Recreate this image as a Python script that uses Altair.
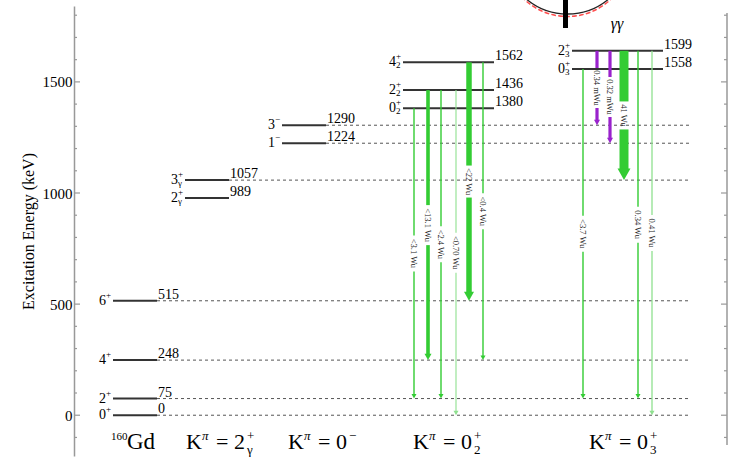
import altair as alt
import pandas as pd

# ---------------- data ----------------
level_band = ["gs", "gs", "gs", "gs", "gam", "gam", "neg", "neg", "b02", "b02", "b02", "b03", "b03"]
level_energy = [0, 75, 248, 515, 989, 1057, 1224, 1290, 1380, 1436, 1562, 1558, 1599]
# vertical position at which each level is drawn (keV on the axis)
level_drawn = [0, 75, 248, 515, 978, 1058, 1224, 1305, 1381, 1463, 1588, 1558, 1640]
level_spin = ["0", "2", "4", "6", "2", "3", "1", "3", "0", "2", "4", "0", "2"]
level_parity = ["+", "+", "+", "+", "+", "+", "\u2212", "\u2212", "+", "+", "+", "+", "+"]
level_sub = ["", "", "", "", "\u03b3", "\u03b3", "", "", "2", "2", "2", "3", "3"]
dashed_levels = [0, 75, 248, 515, 1057, 1224, 1290]

tr_band = ["b02"] * 6 + ["b03"] * 6
tr_from = [1380, 1436, 1436, 1436, 1562, 1562, 1558, 1599, 1599, 1599, 1599, 1599]
tr_to = [75, 248, 75, 0, 515, 248, 75, 1290, 1224, 1057, 75, 0]
tr_label = ["<3.1 Wu", "<13.1 Wu", "<2.4 Wu", "<0.70 Wu", "<22 Wu", "<0.4 Wu",
            "<3.7 Wu", "0.34 mWu", "0.32 mWu", "41 Wu", "0.34 Wu", "0.41 Wu"]

band_K_spin = {"gam": "2", "neg": "0", "b02": "0", "b03": "0"}
band_K_par = {"gam": "+", "neg": "\u2212", "b02": "+", "b03": "+"}
band_K_sub = {"gam": "\u03b3", "neg": "", "b02": "2", "b03": "3"}

major_ticks = [0, 500, 1000, 1500]
minor_ticks = [-100, 100, 200, 300, 400, 600, 700, 800, 900, 1100, 1200, 1300, 1400,
               1600, 1700, 1800]

# ---------------- layout / style ----------------
W, H = 653, 450
YDOM = [-183.5, 1841.5]
PPK = H / (YDOM[1] - YDOM[0])
BAND_X = {"gs": (39, 83), "gam": (111, 155), "neg": (208, 252), "b02": (329, 420), "b03": (498, 589)}
DASH_END = 616
ARROW_X = [340, 354, 367, 382, 395, 409, 509, 523, 536, 550, 564, 578]
GREEN, LGREEN, PURPLE = "#33cc33", "#8fe08f", "#9922cc"
ARROW_COLOR = [GREEN, GREEN, GREEN, LGREEN, GREEN, GREEN, GREEN, PURPLE, PURPLE, GREEN, GREEN, LGREEN]
ARROW_W = [1.4, 3.6, 1.4, 1.1, 5.5, 1.4, 1.4, 3.2, 3.2, 9, 1.4, 1.3]
HEAD_W = [5, 7, 5, 5, 10, 5, 5, 6, 6, 13, 5, 5]
K_X = {"gam": 112, "neg": 214, "b02": 339, "b03": 515}
SERIF = "Liberation Serif"

xs = alt.Scale(domain=[0, W], nice=False, zero=False)
ys = alt.Scale(domain=YDOM, nice=False, zero=False)
y_axis = alt.Axis(
    values=major_ticks, format="d", ticks=False, grid=False, domainColor="#999999", domainWidth=1.5,
    labelFont=SERIF, labelFontSize=15, labelColor="black", labelPadding=2,
    title="Excitation Energy (keV)", titleFont=SERIF, titleFontSize=16,
    titleFontWeight="normal", titleColor="black", titlePadding=6)


def X(f):
    return alt.X(f, type="quantitative", scale=xs, axis=None)


def Y(f):
    return alt.Y(f, type="quantitative", scale=ys, axis=y_axis)


drawn = {(b, e): d for b, e, d in zip(level_band, level_energy, level_drawn)}
drawn_any = {e: d for e, d in zip(level_energy, level_drawn)}

# levels
lev = pd.DataFrame({"band": level_band, "E": level_energy, "D": level_drawn, "spin": level_spin,
                    "par": level_parity, "sub": level_sub})
lev["x1"] = [BAND_X[b][0] for b in lev.band]
lev["x2"] = [BAND_X[b][1] for b in lev.band]
lev["Elab"] = lev.E.astype(str)

dash = lev[lev.E.isin(dashed_levels)].copy()
dash["xe"] = DASH_END

# arrows
segs, heads, labs = [], [], []
for i in range(len(tr_from)):
    f = drawn[(tr_band[i], tr_from[i])]
    t = drawn_any[tr_to[i]]
    lab = tr_label[i]
    mid = (f + t) / 2
    hg = (4.0 * len(lab) + 8) / 2 / PPK
    hh = 0.9 * HEAD_W[i] / PPK
    segs.append({"x": ARROW_X[i], "y1": f, "y2": mid + hg, "c": ARROW_COLOR[i], "w": ARROW_W[i]})
    segs.append({"x": ARROW_X[i], "y1": mid - hg, "y2": t + hh * 0.9, "c": ARROW_COLOR[i], "w": ARROW_W[i]})
    heads.append({"x": ARROW_X[i], "y": t, "c": ARROW_COLOR[i], "s": HEAD_W[i] ** 2})
    labs.append({"x": ARROW_X[i], "y": mid, "t": lab})
segs = pd.DataFrame(segs)
heads = pd.DataFrame(heads)
labs = pd.DataFrame(labs)

base = alt.Chart(lev)

dash_l = alt.Chart(dash).mark_rule(color="#555555", strokeWidth=1, strokeDash=[3, 3]).encode(
    x=X("x2"), x2="xe", y=Y("D"))
level_l = base.mark_rule(color="#333333", strokeWidth=2).encode(x=X("x1"), x2="x2", y=Y("D"))

seg_l = alt.Chart(segs).mark_rule().encode(
    x=X("x"), y=Y("y1"), y2="y2",
    color=alt.Color("c:N", scale=None), size=alt.Size("w:Q", scale=None))
head_l = alt.Chart(heads).mark_point(shape="M-1,-1.8L1,-1.8L0,0Z", filled=True, opacity=1,
                                     strokeWidth=0).encode(
    x=X("x"), y=Y("y"), color=alt.Color("c:N", scale=None), size=alt.Size("s:Q", scale=None))
lab_l = alt.Chart(labs).mark_text(angle=90, font=SERIF, fontSize=8.5, color="#222222",
                                  align="center", baseline="middle").encode(
    x=X("x"), y=Y("y"), text="t:N")

spin_l = base.mark_text(font=SERIF, fontSize=14, align="right", baseline="middle", dx=-7,
                        color="black").encode(x=X("x1"), y=Y("D"), text="spin:N")
par_l = base.mark_text(font=SERIF, fontSize=9, align="left", baseline="middle", dx=-7, dy=-6,
                       color="black").encode(x=X("x1"), y=Y("D"), text="par:N")
sub_l = base.mark_text(font=SERIF, fontSize=9, align="left", baseline="middle", dx=-7, dy=3,
                       color="black").encode(x=X("x1"), y=Y("D"), text="sub:N")
elab_l = base.mark_text(font=SERIF, fontSize=14, align="left", baseline="alphabetic", dx=1, dy=-2,
                        color="black").encode(x=X("x2"), y=Y("D"), text="Elab:N")

# band labels
kdf = pd.DataFrame({"band": list(K_X.keys())})
kdf["x"] = [K_X[b] for b in kdf.band]
kdf["eq"] = ["= " + band_K_spin[b] for b in kdf.band]
kdf["par"] = [band_K_par[b] for b in kdf.band]
kdf["sub"] = [band_K_sub[b] for b in kdf.band]
kdf["K"] = "K"
kdf["pi"] = "\u03c0"
KY = 443
kb = alt.Chart(kdf)
k1 = kb.mark_text(font=SERIF, fontSize=22, align="left", baseline="alphabetic", color="black").encode(
    x=X("x"), y=alt.value(KY), text="K:N")
k2 = kb.mark_text(font=SERIF, fontSize=13, fontStyle="italic", align="left", baseline="alphabetic",
                  dx=16, dy=-9, color="black").encode(x=X("x"), y=alt.value(KY), text="pi:N")
k3 = kb.mark_text(font=SERIF, fontSize=22, align="left", baseline="alphabetic", dx=30,
                  color="black").encode(x=X("x"), y=alt.value(KY), text="eq:N")
k4 = kb.mark_text(font=SERIF, fontSize=13, align="left", baseline="alphabetic", dx=61, dy=-9,
                  color="black").encode(x=X("x"), y=alt.value(KY), text="par:N")
k5 = kb.mark_text(font=SERIF, fontSize=13, align="left", baseline="alphabetic", dx=61, dy=5,
                  color="black").encode(x=X("x"), y=alt.value(KY), text="sub:N")

gd = alt.Chart(pd.DataFrame({"t": ["160", "Gd"], "x": [37, 53]}))
gd1 = gd.transform_filter("datum.t == '160'").mark_text(
    font=SERIF, fontSize=11, align="left", baseline="alphabetic", dy=-9, color="black").encode(
    x=X("x"), y=alt.value(KY), text="t:N")
gd2 = gd.transform_filter("datum.t == 'Gd'").mark_text(
    font=SERIF, fontSize=23, align="left", baseline="alphabetic", color="black").encode(
    x=X("x"), y=alt.value(KY), text="t:N")

gg = alt.Chart(pd.DataFrame({"t": ["\u03b3\u03b3"]})).mark_text(
    font=SERIF, fontSize=16, fontStyle="italic", align="center", baseline="alphabetic",
    color="black").encode(x=alt.value(543), y=alt.value(23), text="t:N")

# ticks and right axis
tk = pd.DataFrame({"E": major_ticks + minor_ticks,
                   "len": [6] * len(major_ticks) + [3] * len(minor_ticks)})
tk["r0"] = W - tk["len"]
tk["rw"] = W
tk["l0"] = 0
tl = alt.Chart(tk).mark_rule(color="#999999", strokeWidth=1.2).encode(
    x=X("l0"), x2="len", y=Y("E"))
tr = alt.Chart(tk).mark_rule(color="#999999", strokeWidth=1.2).encode(
    x=X("r0"), x2="rw", y=Y("E"))
raxis = alt.Chart(pd.DataFrame({"a": [0]})).mark_rule(color="#999999", strokeWidth=1.5).encode(
    x=alt.value(W), y=alt.value(7), y2=alt.value(439))

# decoration at top (fragment of a picture above the chart)
one = alt.Chart(pd.DataFrame({"a": [0]}))
arc_b = one.mark_arc(radius=64, radius2=64, theta=0, theta2=6.2832, fillOpacity=0,
                     stroke="#222222", strokeWidth=1.3).encode(x=alt.value(493.5), y=alt.value(-56))
arc_r = one.mark_arc(radius=63, radius2=63, theta=0, theta2=6.2832, fillOpacity=0,
                     stroke="#ff4d4d", strokeWidth=1.5, strokeDash=[4, 3]).encode(
    x=alt.value(493.5), y=alt.value(-52.5))
bar = one.mark_rule(color="black", strokeWidth=5).encode(x=alt.value(491.5), y=alt.value(-6),
                                                          y2=alt.value(22))

chart = alt.layer(
    dash_l, level_l, seg_l, head_l, lab_l, spin_l, par_l, sub_l, elab_l,
    k1, k2, k3, k4, k5, gd1, gd2, gg, tl, tr, raxis, arc_b, arc_r, bar
).properties(
    width=W, height=H,
    padding={"left": 74, "top": 6, "right": 4, "bottom": 5},
    autosize=alt.AutoSizeParams(type="none"),
    background="white",
).configure_view(stroke=None)

chart.save("out.html", embed_options={"renderer": "svg", "actions": False})
